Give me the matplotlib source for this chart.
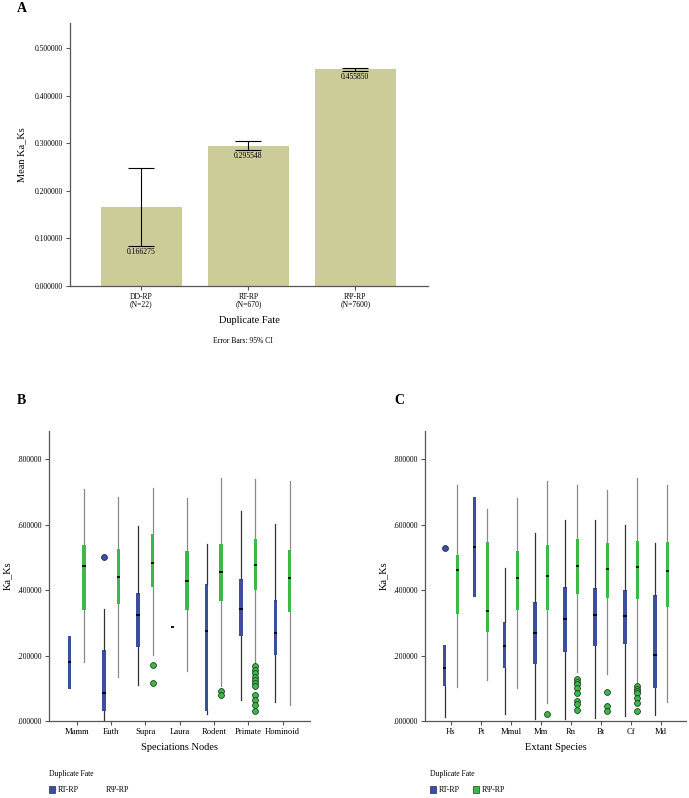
import matplotlib
matplotlib.use("Agg")
import matplotlib.pyplot as plt
from matplotlib.patches import Patch

plt.rcParams['font.family'] = ['Liberation Serif', 'DejaVu Serif']

W, H = 689, 798

# ---------------- Panel A data ----------------
a_cats = ["DD-RP\n(N=22)", "RT-RP\n(N=670)", "RΨ-RP\n(N=7600)"]
a_means = [0.166275, 0.295548, 0.455850]
a_ci_low = [0.0835, 0.2854, 0.4522]
a_ci_high = [0.2476, 0.3044, 0.4580]
a_yticks = [0.0, 0.1, 0.2, 0.3, 0.4, 0.5]

# ---------------- Panel B data ----------------
b_cats = ["Mamm", "Euth", "Supra", "Laura", "Rodent", "Primate", "Hominoid"]
b_rt_whislo = [0.098, 0.004, 0.110, 0.286, 0.021, 0.063, 0.058]
b_rt_q1 = [0.098, 0.032, 0.226, 0.286, 0.032, 0.259, 0.202]
b_rt_med = [0.179, 0.085, 0.323, 0.286, 0.274, 0.342, 0.270]
b_rt_q3 = [0.261, 0.218, 0.391, 0.286, 0.419, 0.434, 0.370]
b_rt_whishi = [0.261, 0.342, 0.597, 0.286, 0.540, 0.642, 0.601]
b_rt_fliers = [[], [0.501], [], [], [], [], []]

b_rp_whislo = [0.179, 0.136, 0.202, 0.152, 0.108, 0.172, 0.050]
b_rp_q1 = [0.340, 0.358, 0.411, 0.338, 0.367, 0.399, 0.332]
b_rp_med = [0.475, 0.439, 0.482, 0.428, 0.457, 0.476, 0.437]
b_rp_q3 = [0.538, 0.526, 0.571, 0.521, 0.542, 0.557, 0.523]
b_rp_whishi = [0.709, 0.684, 0.711, 0.683, 0.744, 0.739, 0.734]
b_rp_fliers = [[], [], [0.170, 0.116], [], [0.091, 0.080],
               [0.167, 0.157, 0.147, 0.136, 0.126, 0.116, 0.106, 0.080, 0.065, 0.050, 0.030], []]

# ---------------- Panel C data ----------------
c_cats = ["Hs", "Pt", "Mmul", "Mm", "Rn", "Bt", "Cf", "Md"]
c_rt_whislo = [0.013, 0.379, 0.022, 0.006, 0.005, 0.010, 0.015, 0.018]
c_rt_q1 = [0.108, 0.379, 0.161, 0.175, 0.210, 0.230, 0.236, 0.101]
c_rt_med = [0.163, 0.532, 0.228, 0.270, 0.312, 0.325, 0.322, 0.201]
c_rt_q3 = [0.232, 0.685, 0.303, 0.364, 0.409, 0.407, 0.400, 0.385]
c_rt_whishi = [0.232, 0.685, 0.468, 0.574, 0.613, 0.614, 0.599, 0.543]
c_rt_fliers = [[0.530], [], [], [], [], [], [], []]

c_rp_whislo = [0.104, 0.125, 0.100, 0.055, 0.151, 0.145, 0.114, 0.058]
c_rp_q1 = [0.328, 0.272, 0.339, 0.339, 0.387, 0.375, 0.373, 0.348]
c_rp_med = [0.461, 0.337, 0.436, 0.443, 0.473, 0.464, 0.470, 0.458]
c_rp_q3 = [0.509, 0.546, 0.520, 0.538, 0.557, 0.545, 0.549, 0.548]
c_rp_whishi = [0.723, 0.647, 0.682, 0.733, 0.720, 0.707, 0.743, 0.723]
c_rp_fliers = [[], [], [], [0.020],
               [0.127, 0.120, 0.113, 0.101, 0.086, 0.060, 0.052, 0.035],
               [0.089, 0.045, 0.032],
               [0.106, 0.098, 0.092, 0.086, 0.0705, 0.055, 0.032], []]

box_yticks = [0.0, 0.2, 0.4, 0.6, 0.8]

BLUE = "#3D4E9E"
GREEN = "#3DB94A"
BAR = "#CCCC99"
SPINE = "#555555"

fig = plt.figure(figsize=(W / 100, H / 100), dpi=100)


def ax_rect(l, r, t, b):
    return [l / W, 1 - b / H, (r - l) / W, (b - t) / H]


def ftext(x, y, s, **kw):
    fig.text(x / W, 1 - y / H, s, **kw)


def style_axes(ax):
    for s in ["top", "right"]:
        ax.spines[s].set_visible(False)
    for s in ["left", "bottom"]:
        ax.spines[s].set_color(SPINE)
        ax.spines[s].set_linewidth(0.9)
    ax.tick_params(axis="both", colors="black", labelsize=5.5, length=3, width=0.8, pad=2)
    ax.tick_params(axis="both", color=SPINE)


# ---------------- Panel A ----------------
axA = fig.add_axes(ax_rect(70, 428, 22.7, 286))
xa = list(range(len(a_cats)))
axA.bar(xa, a_means, width=0.757, color=BAR, edgecolor="none", zorder=1)
yerr = [[m - lo for m, lo in zip(a_means, a_ci_low)], [hi - m for m, hi in zip(a_means, a_ci_high)]]
axA.errorbar(xa, a_means, yerr=yerr, fmt="none", ecolor="black", elinewidth=0.8,
             capsize=9.4, capthick=0.8, zorder=2)
for x, m, lo in zip(xa, a_means, a_ci_low):
    axA.annotate(f"{m:.6f}", (x, lo), xytext=(0, -1.5), textcoords="offset points",
                 ha="center", va="top", fontsize=5.5)
axA.set_xlim(-0.668, 2.68)
axA.set_ylim(0, 0.554)
axA.set_xticks(xa)
axA.set_xticklabels(a_cats, linespacing=0.85)
axA.set_yticks(a_yticks)
axA.set_yticklabels([f"{v:.6f}" for v in a_yticks])
style_axes(axA)
axA.set_ylabel("Mean Ka_Ks", fontsize=7.5, labelpad=6)
axA.set_xlabel("Duplicate Fate", fontsize=7.5, labelpad=6)
ftext(242.7, 340.7, "Error Bars: 95% CI", ha="center", va="center", fontsize=5.5)
ftext(17, 9, "A", fontsize=10, fontweight="bold", ha="left", va="center")


def make_stats(whislo, q1, med, q3, whishi, fliers):
    return [dict(whislo=a, q1=b, med=c, q3=d, whishi=e, fliers=f)
            for a, b, c, d, e, f in zip(whislo, q1, med, q3, whishi, fliers)]


def draw_boxes(ax, n, rt, rp, width, off):
    pos = list(range(n))
    for stats, color, sign, wcol in [(rt, BLUE, -1, "#333333"), (rp, GREEN, 1, "#8a8a8a")]:
        ax.bxp(stats, positions=[p + sign * off for p in pos], widths=width,
               patch_artist=True, showcaps=False,
               boxprops=dict(facecolor=color, edgecolor="none"),
               medianprops=dict(color="black", linewidth=1.3, solid_capstyle="butt"),
               whiskerprops=dict(color=wcol, linewidth=0.9),
               flierprops=dict(marker="o", markerfacecolor=color, markeredgecolor="#1f3d22" if color == GREEN else "#1e2a5c",
                               markersize=4.2, markeredgewidth=0.6, linestyle="none"),
               manage_ticks=False)
    ax.set_xticks(pos)


# ---------------- Panel B ----------------
axB = fig.add_axes(ax_rect(49, 310, 430.7, 721))
draw_boxes(axB, len(b_cats),
           make_stats(b_rt_whislo, b_rt_q1, b_rt_med, b_rt_q3, b_rt_whishi, b_rt_fliers),
           make_stats(b_rp_whislo, b_rp_q1, b_rp_med, b_rp_q3, b_rp_whishi, b_rp_fliers),
           width=0.1, off=0.21)
axB.set_xlim(-0.81, 6.8)
axB.set_ylim(0, 0.8875)
axB.set_xticklabels(b_cats)
axB.set_yticks(box_yticks)
axB.set_yticklabels([f"{v:.6f}"[1:] for v in box_yticks])
style_axes(axB)
axB.tick_params(axis="x", labelsize=6.2)
axB.set_ylabel("Ka_Ks", fontsize=7.5, labelpad=4)
axB.set_xlabel("Speciations Nodes", fontsize=7.5, labelpad=5)
ftext(17, 400, "B", fontsize=10, fontweight="bold", ha="left", va="center")

# ---------------- Panel C ----------------
axC = fig.add_axes(ax_rect(425.3, 685.7, 430.7, 721))
draw_boxes(axC, len(c_cats),
           make_stats(c_rt_whislo, c_rt_q1, c_rt_med, c_rt_q3, c_rt_whishi, c_rt_fliers),
           make_stats(c_rp_whislo, c_rp_q1, c_rp_med, c_rp_q3, c_rp_whishi, c_rp_fliers),
           width=0.117, off=0.21)
axC.set_xlim(-0.857, 7.82)
axC.set_ylim(0, 0.8875)
axC.set_xticklabels(c_cats)
axC.set_yticks(box_yticks)
axC.set_yticklabels([f"{v:.6f}"[1:] for v in box_yticks])
style_axes(axC)
axC.tick_params(axis="x", labelsize=6.2)
axC.set_ylabel("Ka_Ks", fontsize=7.5, labelpad=4)
axC.set_xlabel("Extant Species", fontsize=7.5, labelpad=5)
ftext(394, 400, "C", fontsize=10, fontweight="bold", ha="left", va="center")

# ---------------- Legends ----------------
def legend_at(x, y, show_green):
    handles = [Patch(facecolor=BLUE, edgecolor="#1e2a5c", linewidth=0.5, label="RT-RP"),
               Patch(facecolor=GREEN if show_green else "none",
                     edgecolor="#1f3d22" if show_green else "none", linewidth=0.5, label="RΨ-RP")]
    leg = fig.legend(handles=handles, loc="upper left", bbox_to_anchor=(x / W, 1 - y / H),
                     ncol=2, frameon=False, fontsize=5.8, handlelength=0.8, handleheight=0.8,
                     handletextpad=0.3, columnspacing=2.2 if not show_green else 1.6,
                     borderpad=0, borderaxespad=0, title="Duplicate Fate",
                     title_fontsize=5.5, alignment="left")
    leg._legend_box.sep = 6
    return leg


legend_at(49, 770, False)
legend_at(430, 770, True)

fig.savefig("out.png", dpi=100)
